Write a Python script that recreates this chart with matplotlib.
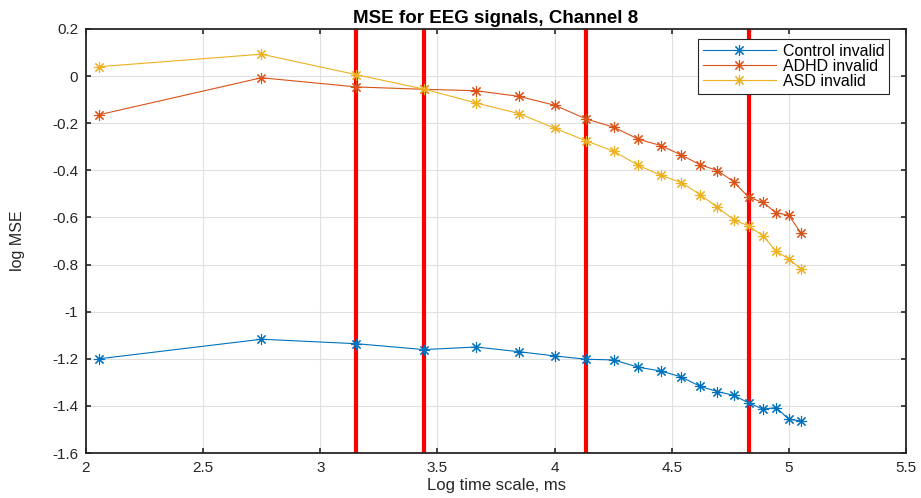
import matplotlib
matplotlib.use('Agg')
import matplotlib.pyplot as plt
from matplotlib.ticker import MultipleLocator

plt.rcParams['font.family'] = ['Liberation Sans', 'DejaVu Sans']
plt.rcParams['axes.unicode_minus'] = False

# log of the time scale (ms), one entry per scale factor 1..20
log_scale = [2.056, 2.749, 3.154, 3.442, 3.665, 3.848, 4.002, 4.135, 4.253, 4.358,
             4.454, 4.541, 4.621, 4.695, 4.764, 4.828, 4.889, 4.946, 5.000, 5.052]

control_mse = [-1.200, -1.117, -1.136, -1.161, -1.150, -1.170, -1.188, -1.202, -1.205, -1.236,
               -1.252, -1.277, -1.317, -1.339, -1.355, -1.387, -1.414, -1.407, -1.457, -1.464]
adhd_mse = [-0.164, -0.007, -0.046, -0.056, -0.062, -0.086, -0.124, -0.182, -0.217, -0.268,
            -0.295, -0.335, -0.376, -0.401, -0.448, -0.514, -0.536, -0.580, -0.591, -0.667]
asd_mse = [0.040, 0.093, 0.006, -0.055, -0.114, -0.159, -0.222, -0.275, -0.319, -0.379,
           -0.421, -0.452, -0.503, -0.557, -0.609, -0.636, -0.677, -0.744, -0.776, -0.819]

# marked scales (red verticals)
marked_scales = [3.154, 3.442, 4.135, 4.828]

series = [
    ('Control invalid', control_mse, '#0072BD'),
    ('ADHD invalid', adhd_mse, '#D95319'),
    ('ASD invalid', asd_mse, '#EDB120'),
]

AXIS_COLOR = '#262626'
ASTERISK = (8, 2, 0)  # 8-spoke asterisk, like MATLAB's '*'

fig = plt.figure(figsize=(9.21, 4.98), dpi=100)
ax = fig.add_axes([86 / 921, 45 / 498, 820 / 921, 424 / 498])

for xv in marked_scales:
    ax.axvline(xv, color='#FF0000', linewidth=3.0, zorder=2)

for label, values, color in series:
    ax.plot(log_scale, values, color=color, linewidth=0.8, marker=ASTERISK,
            markersize=8, markeredgewidth=0.8, label=label, zorder=3)

ax.set_xlim(2, 5.5)
ax.set_ylim(-1.6, 0.2)
ax.xaxis.set_major_locator(MultipleLocator(0.5))
ax.yaxis.set_major_locator(MultipleLocator(0.2))
ax.set_xticklabels([f'{t:g}' for t in ax.get_xticks()])
ax.set_yticklabels([f'{round(t, 1):g}' for t in ax.get_yticks()])

ax.grid(True, color='#E0E0E0', linewidth=0.8)
ax.set_axisbelow(True)
ax.tick_params(direction='in', top=True, right=True, length=3.5, width=1.2,
               labelsize=11, colors=AXIS_COLOR, pad=5.5)
for spine in ax.spines.values():
    spine.set_color(AXIS_COLOR)
    spine.set_linewidth(1.3)

ax.set_xlabel('Log time scale, ms', fontsize=12, color=AXIS_COLOR, va='top')
ax.xaxis.set_label_coords(0.5, -0.060)
ax.set_ylabel('log MSE', fontsize=11.5, color=AXIS_COLOR)
ax.yaxis.set_label_coords(-0.074, 0.5)
ax.set_title('MSE for EEG signals, Channel 8', fontsize=13.5, fontweight='bold', pad=4.5)

leg = ax.legend(loc='upper right', bbox_to_anchor=((889 - 86) / 820, (453 - 39) / 424),
                borderaxespad=0, fontsize=11.5, frameon=True, fancybox=False,
                edgecolor=AXIS_COLOR, framealpha=1, handlelength=4.6, handletextpad=0.4,
                labelspacing=0.0, borderpad=0.3)
leg.get_frame().set_linewidth(0.8)

fig.savefig('out.png', dpi=100)
